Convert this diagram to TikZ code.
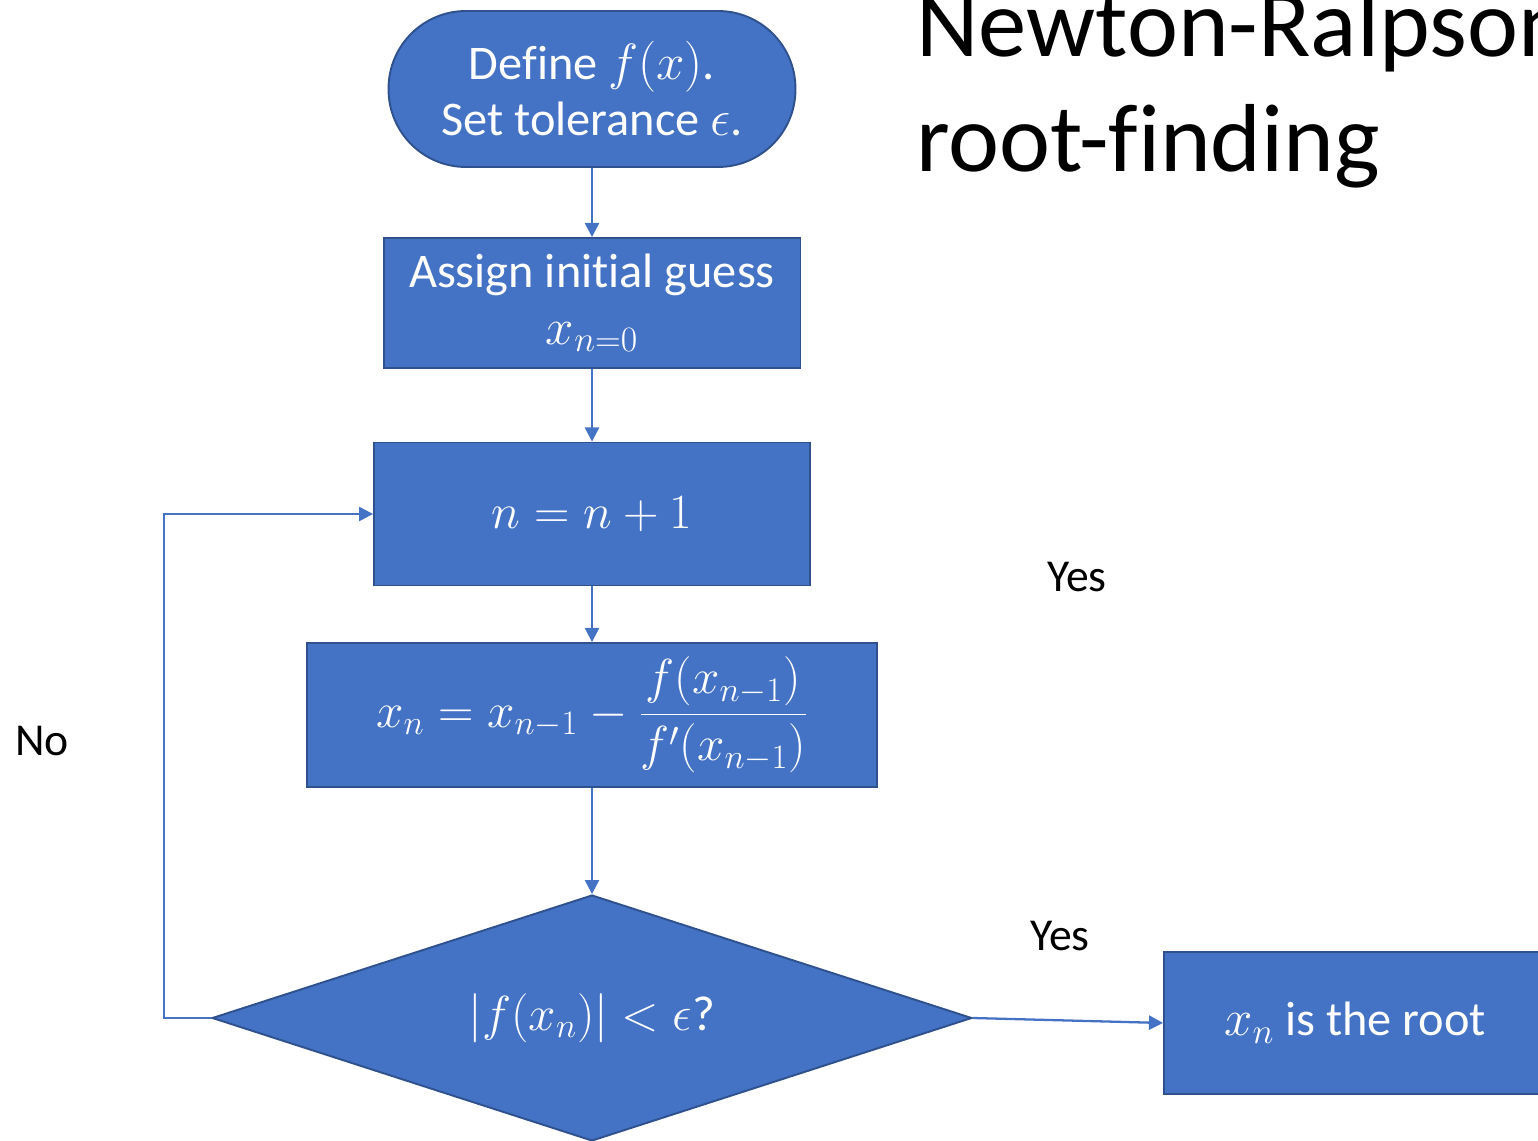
\RequirePackage{fix-cm}
\documentclass[tikz,border=0pt]{standalone}
\usepackage{fontspec}
\setmainfont{Carlito}[Ligatures=CommonOff]
\usetikzlibrary{arrows.meta,shapes.geometric}
\definecolor{boxblue}{HTML}{4472C4}
\definecolor{edgeblue}{HTML}{2F528F}
\tikzset{
  flowbox/.style={draw=edgeblue, fill=boxblue, line width=1.1pt, text=white, align=center, inner sep=0pt, font=\fontsize{27.5}{32}\selectfont},
  mathbox/.style={flowbox, font=\fontsize{28}{36}\selectfont},
  startbox/.style={flowbox, rounded corners=1.55cm},
  testbox/.style={mathbox, diamond, aspect=3},
  flowline/.style={draw=boxblue, line width=1.3pt, -{Triangle[width=8pt,length=8pt]}},
  answer/.style={font=\fontsize{26}{30}\selectfont},
  titletext/.style={anchor=base west, inner sep=0pt, font=\fontsize{55}{60}\selectfont}
}
\newcommand{\flowmath}[1]{{\fontsize{29}{32}\selectfont$#1$}}
\begin{document}
\begin{tikzpicture}[x=0.02cm, y=-0.02cm]
    \useasboundingbox (0,0) rectangle (1538,1141);
    % flow boxes
    \node[startbox, minimum width=8.14cm, minimum height=3.12cm] (start) at (592,89) {Define \flowmath{f(x)}.\\Set tolerance \flowmath{\epsilon}.};
    \node[flowbox, minimum width=8.34cm, minimum height=2.6cm] (guess) at (592,303) {Assign initial guess\\\flowmath{x_{n=0}}};
    \node[mathbox, minimum width=8.72cm, minimum height=2.86cm] (step) at (592,514) {$n=n+1$};
    \node[mathbox, minimum width=11.42cm, minimum height=2.88cm] (update) at (592,715) {$\displaystyle x_n = x_{n-1} - \frac{f(x_{n-1})}{f'(x_{n-1})}$};
    \node[testbox, minimum width=15.2cm, minimum height=4.92cm] (test) at (592,1018) {$|f(x_n)| < \epsilon$?};
    \node[flowbox, minimum width=7.64cm, minimum height=2.84cm] (root) at (1355,1023) {\flowmath{x_n} is the root};
    % connectors
    \draw[flowline] (start) -- (guess);
    \draw[flowline] (guess) -- (step);
    \draw[flowline] (step) -- (update);
    \draw[flowline] (update) -- (test);
    \draw[flowline] (test.west) -- ++(-47,0) |- (step.west);
    \draw[flowline] (test.east) -- (root.west);
    % labels
    \node[answer] (yesup) at (1077,577) {Yes};
    \node[answer] (yes) at (1060,936) {Yes};
    \node[answer] (no) at (42,741) {No};
    \node[titletext] (title) at (916,57) {Newton-Ralpson};
    \node[titletext] (subtitle) at (916,172) {root-finding};
\end{tikzpicture}
\end{document}
